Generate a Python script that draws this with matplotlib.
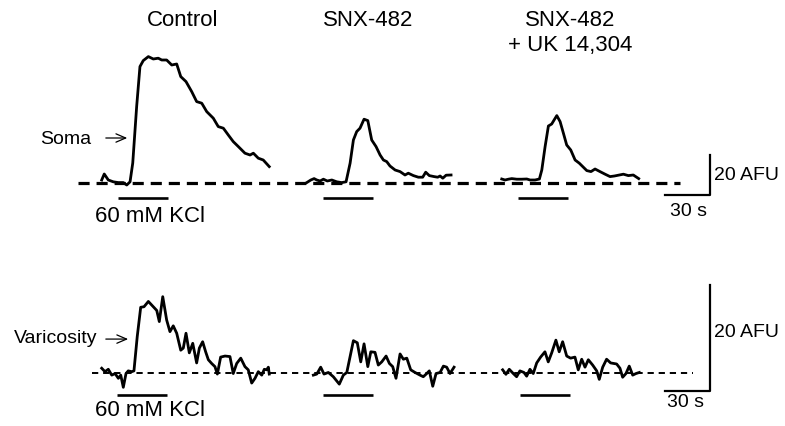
import matplotlib
matplotlib.use('Agg')
import matplotlib.pyplot as plt
import numpy as np

plt.rcParams['font.family'] = ['Liberation Sans', 'DejaVu Sans']
plt.rcParams['lines.scale_dashes'] = False

# 时间 (s, 相对曲线起点) 和 荧光 (AFU)
# 胞体 Soma
soma_ctrl_t = [0, 1.7, 4.4, 7.7, 11.1, 14.4, 16.7, 18.9, 20.7, 23.3, 25.5, 27.7, 31.1, 34.4, 37.7, 40, 43.3,
               46.7, 50, 52.7, 56.2, 60, 63.3, 66.7, 70, 74.4, 77.7, 81.1, 84.4, 87.7, 91.1, 95.5, 98.9,
               101.1, 104.4, 107.7, 111.7]
soma_ctrl = [1.5, 4.5, 1.5, 0.6, 0.2, 0.2, -1, 0.6, 10, 38.2, 58.2, 61.2, 63.2, 62, 62.4, 61.5, 61.5,
             59, 59.5, 53.2, 50.7, 45.7, 40.7, 39.9, 35.7, 32.4, 28.2, 27.4, 24, 20.7, 18.2, 14.9, 14,
             14.9, 12.4, 11.5, 8.2]
soma_snx_t = [0, 2.7, 4.9, 6.7, 8.9, 11.1, 13.7, 16.7, 20, 23.3, 26.2, 28.9, 31.1, 33.3, 35.5, 38.2, 40.7,
              43.3, 46.2, 48.9, 51.1, 53.3, 55.5, 58.9, 62.2, 65.5, 67.7, 71.1, 74.4, 77.3, 79.3, 81.7,
              84.9, 87.3, 88.9, 90.7, 92.9, 96.2]
soma_snx = [0.2, 1.5, 2.2, 1.5, 1, 1.9, 1, 1.5, 0.6, 0.2, 0.6, 9.9, 21.5, 25.7, 27.4, 31.9, 31.2,
            21.5, 18.2, 14, 11.5, 10.7, 8.5, 6.5, 5.7, 4, 4.9, 3.7, 2.9, 2.9, 5.4, 3.7,
            3.2, 2.9, 3.5, 2.4, 3.9, 4]
soma_uk_t = [0, 2.2, 4.4, 6.7, 10, 13.3, 16.7, 18.9, 22.2, 25.1, 26.7, 28.9, 31.1, 33.3, 34.9, 36.7, 38.9,
             41.1, 43.3, 46, 48.9, 51.7, 54.4, 56.7, 59.5, 62.2, 65.5, 68.9, 72.2, 75.1, 78.4, 81.1,
             84.4, 87.7, 91.3]
soma_uk = [2, 1.5, 1.9, 2.2, 1.9, 1.9, 2, 1.5, 1.5, 2, 6.5, 18.2, 28.5, 29.5, 31.5, 33.7, 30.7,
           24.9, 19, 16.5, 11.5, 9.9, 7.9, 6.2, 5.7, 7, 5.7, 4.4, 3.2, 3.5, 4, 4.4,
           3.7, 4, 2.2]

# 膨体 Varicosity
var_ctrl_t = [0, 2.2, 4.4, 6.7, 8.9, 11.1, 12.7, 14.4, 16.2, 17.7, 20, 21.5, 23.7, 26, 28.2, 31.1, 34.4,
              36.7, 38.4, 40.7, 43.3, 45.5, 47.7, 50, 52.7, 54.4, 56.2, 58.4, 60.7, 63.3, 65.1, 67.3,
              69.3, 71.1, 73.3, 75.5, 77.1, 79.3, 82.2, 85.5, 87.7, 90, 92.7, 95.5, 97.7, 100, 102.2,
              104.4, 106.7, 108.4, 110, 111.1, 111.7]
var_ctrl = [0.9, 0.25, 0.7, -0.4, -0.1, -1.0, -0.4, -2.7, -0.1, 0.4, 0.25, 0.4, 6.9, 12.4, 12.5, 13.5, 12.5,
            11.8, 9.7, 14.4, 10, 7.8, 8.9, 7.5, 4.3, 4.7, 7.5, 3.8, 5.6, 1.9, 4.7, 5.9,
            4.0, 2.5, 1.8, 1.2, -0.2, 3.0, 3.2, 3.1, -0.1, 1.8, 2.8, 1.2, 0.6, -1.9, -1.0,
            0.25, -0.4, 0.7, 0.6, 1.1, -0.2]
var_snx_t = [0, 2.3, 4.9, 7.1, 10, 13.3, 17.3, 20, 22.3, 24.5, 26.7, 29.3, 31.6, 33.8, 36.3, 38.3, 41.1,
             43.3, 45.6, 48.5, 50.7, 52.9, 55.1, 57.8, 60, 62.3, 64.9, 67.8, 71.1, 73.3, 75.6, 77.3,
             79.6, 81.8, 84.5, 86.7, 88.9, 91.1, 93.8]
var_snx = [-0.4, -0.2, 1.1, -0.2, 0.1, -0.7, -2.1, -0.4, 0.1, 3.1, 6.1, 5.7, 2.1, 5.5, 1.2, 4.0, 3.9,
           1.5, 2.1, 3.2, 1.8, 1.2, -1.0, 3.6, 2.6, 2.8, 0.6, 0.1, -0.4, -0.7, -0.1, 0.4,
           -2.5, -0.1, 0.1, 1.3, 1.1, -0.1, 1.1]
var_uk_t = [0, 2.2, 4.4, 7.1, 9.3, 11.5, 14.2, 16, 18.2, 20.4, 22.7, 25.3, 28.2, 30.4, 32.7, 35.5, 37.7,
            40, 42.7, 45.3, 48.2, 50.4, 52.7, 54.9, 57.1, 60, 62.7, 64.4, 66.7, 69.3, 72, 76,
            78.2, 80, 82.2, 84.4, 86.7, 88.9, 91.1]
var_uk = [0.6, -0.25, 0.7, -0.1, -0.7, 0.4, 0.1, -0.6, 0.7, -0.1, 1.9, 3.0, 4.0, 2.1, 3.8, 6.2, 4.0,
          5.9, 3.2, 2.8, 3.0, 0.6, 2.6, 1.1, 2.5, 1.5, 0.4, -1.2, 1.1, 2.6, 1.9, 1.7,
          0.9, -0.8, -0.1, 1.3, -0.4, -0.1, 0.1]

conditions = ['Control', 'SNX-482', 'SNX-482\n+ UK 14,304']
soma_traces = [(soma_ctrl_t, soma_ctrl), (soma_snx_t, soma_snx), (soma_uk_t, soma_uk)]
var_traces = [(var_ctrl_t, var_ctrl), (var_snx_t, var_snx), (var_uk_t, var_uk)]
soma_start = [67.8, 204.5, 334.5]
var_start = [67.8, 208.9, 335.1]
soma_kcl = [78.7, 215.5, 345.5]
var_kcl = [78.2, 215.5, 346.7]
kcl_dur = 33
scale_t = 30
scale_afu = 20

# 画布按像素：x 方向 1.5 px/s
W, H = 785, 426
fig = plt.figure(figsize=(W / 100, H / 100), dpi=100)
ax1 = fig.add_axes([0, 0, 1, 1])
ax2 = fig.add_axes([0, 0, 1, 1])
ax2.patch.set_alpha(0)
ax1.set_xlim(0, W / 1.5)
ax2.set_xlim(0, W / 1.5)
ax1.set_ylim((183 - H) / 2, 183 / 2)
ax2.set_ylim((373 - H) / 5.3, 373 / 5.3)
ax1.axis('off')
ax2.axis('off')

arrow = dict(arrowstyle='->, head_length=0.7, head_width=0.3', lw=0.9, color='k')

# 上排：胞体
for (t, v), s0, k0 in zip(soma_traces, soma_start, soma_kcl):
    ax1.plot(np.array(t) + s0, v, c='k', lw=2.0)
    ax1.plot([k0, k0 + kcl_dur], [-7.25, -7.25], c='k', lw=1.9, solid_capstyle='butt')
ax1.plot([52, 453.3], [0, 0], c='k', lw=2.3, ls=(0, (8, 5)))
ax1.plot([443.3, 443.3 + scale_t, 443.3 + scale_t], [-6, -6, -6 + scale_afu], c='k', lw=1.6)
ax1.text(476, 4, '20 AFU', fontsize=14, ha='left', va='center')
ax1.text(459.3, -14, '30 s', fontsize=14, ha='center', va='center')
ax1.text(100, -16.5, '60 mM KCl', fontsize=16, ha='center', va='center')
ax1.text(60.7, 21.5, 'Soma', fontsize=14, ha='right', va='center')
ax1.annotate('', xy=(86.7, 22.5), xytext=(68.7, 22.5), arrowprops=arrow)
ax1.text(122, 81.5, conditions[0], fontsize=16, ha='center', va='center')
ax1.text(245.3, 81.5, conditions[1], fontsize=16, ha='center', va='center')
ax1.text(380, 74.75, conditions[2], fontsize=16, ha='center', va='center', linespacing=1.25)

# 下排：膨体
for (t, v), s0, k0 in zip(var_traces, var_start, var_kcl):
    ax2.plot(np.array(t) + s0, v, c='k', lw=2.0)
    ax2.plot([k0, k0 + kcl_dur], [-4.15, -4.15], c='k', lw=1.9, solid_capstyle='butt')
ax2.plot([61.3, 462], [0, 0], c='k', lw=1.4, ls=(0, (4.5, 3.5)))
ax2.plot([443.3, 443.3 + scale_t, 443.3 + scale_t], [-3.4, -3.4, -3.4 + scale_afu], c='k', lw=1.6)
ax2.text(476, 7.7, '20 AFU', fontsize=14, ha='left', va='center')
ax2.text(457.3, -5.5, '30 s', fontsize=14, ha='center', va='center')
ax2.text(100, -7.0, '60 mM KCl', fontsize=16, ha='center', va='center')
ax2.text(64.7, 6.6, 'Varicosity', fontsize=14, ha='right', va='center')
ax2.annotate('', xy=(87.3, 6.4), xytext=(68.7, 6.4), arrowprops=arrow)

plt.savefig('out.png', dpi=100)
